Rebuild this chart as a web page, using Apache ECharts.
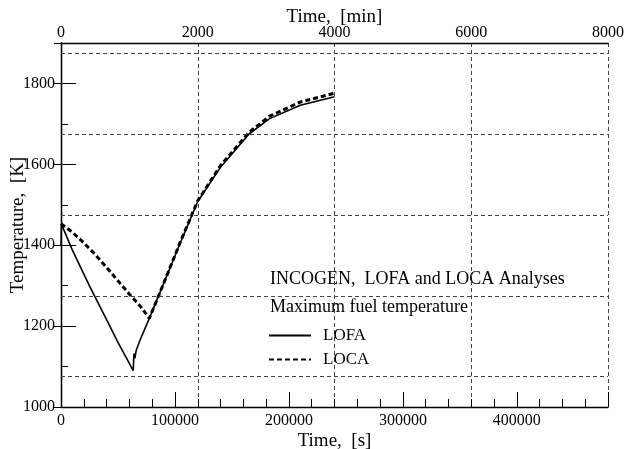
<!DOCTYPE html>
<html>
<head>
<meta charset="utf-8">
<script src="https://cdn.jsdelivr.net/npm/echarts@6/dist/echarts.min.js"></script>
<style>
  html, body { margin: 0; padding: 0; background: #fff; }
  #chart { width: 624px; height: 449px; }
</style>
</head>
<body>
<div id="chart"></div>
<script>
// values
var lofaTime = [0, 400, 10000, 25400, 40000, 50000, 63400, 64000, 64800, 66000, 69300, 77500, 90000, 105000, 120000, 140000, 165000, 183000, 210000, 240000];
var lofaTemp = [1398, 1452, 1388, 1297, 1216, 1160, 1090, 1132, 1120, 1140, 1165, 1219, 1305, 1408, 1508, 1593, 1675, 1713, 1746, 1767];
var locaTime = [0, 10000, 20000, 30000, 40000, 50000, 60000, 70000, 77500, 90000, 105000, 120000, 140000, 165000, 183000, 210000, 240000];
var locaTemp = [1453, 1432, 1406, 1377, 1345, 1312, 1279, 1248, 1219, 1305, 1410, 1510, 1597, 1679, 1719, 1754, 1776];
var gridTemp = [1075, 1275, 1475, 1675, 1875];   // dashed horizontal grid

function pairs(xs, ys) {
  var out = [];
  for (var i = 0; i < xs.length; i++) out.push([xs[i], ys[i]]);
  return out;
}
function plain(v) { return String(v); }

var serif = 'Liberation Serif';
var chart = echarts.init(document.getElementById('chart'));

var gridLine = { type: [4, 3], color: '#444', width: 1 };
var nameStyle = { fontFamily: serif, fontSize: 19, color: '#000' };
var labelStyle = { fontFamily: serif, fontSize: 16, color: '#000' };

chart.setOption({
  animation: false,
  textStyle: { fontFamily: serif, color: '#000' },
  grid: { left: 61, right: 16, top: 43, bottom: 42, containLabel: false, outerBoundsMode: 'none' },
  xAxis: [{
    type: 'value', position: 'bottom',
    min: 0, max: 480000, interval: 100000,
    name: 'Time,  [s]', nameLocation: 'middle', nameGap: 25, nameMoveOverlap: false,
    nameTextStyle: nameStyle,
    axisLine: { show: true, lineStyle: { color: '#000', width: 1.3 } },
    axisTick: { show: true, inside: true, length: 15, lineStyle: { color: '#000' } },
    minorTick: { show: true, splitNumber: 5, length: 8, lineStyle: { color: '#000' } },
    axisLabel: Object.assign({ margin: 6, showMaxLabel: false, formatter: plain }, labelStyle),
    splitLine: { show: false }
  }, {
    type: 'value', position: 'top',
    min: 0, max: 8000, interval: 2000,
    name: 'Time,  [min]', nameLocation: 'middle', nameGap: 16, nameMoveOverlap: false,
    nameTextStyle: nameStyle,
    axisLine: { show: true, lineStyle: { color: '#000', width: 1.3 } },
    axisTick: { show: false },
    axisLabel: Object.assign({ margin: 2, formatter: plain }, labelStyle),
    splitLine: { show: true, lineStyle: gridLine }
  }],
  yAxis: [{
    type: 'value', position: 'left',
    min: 1000, max: 1900, interval: 200,
    name: 'Temperature,  [K]', nameLocation: 'middle', nameGap: 33, nameMoveOverlap: false,
    nameTextStyle: nameStyle,
    axisLine: { show: true, lineStyle: { color: '#000', width: 1.3 } },
    axisTick: { show: true, inside: true, length: 15, lineStyle: { color: '#000' } },
    minorTick: { show: true, splitNumber: 2, length: 7, lineStyle: { color: '#000' } },
    axisLabel: Object.assign({ margin: 6, showMaxLabel: false, formatter: plain }, labelStyle),
    splitLine: { show: false }
  }, {
    type: 'value', position: 'right',
    min: 1000, max: 1900, interval: 200,
    axisLine: { show: true, lineStyle: { color: '#000', width: 1.3 } },
    axisTick: { show: true, inside: true, length: 7, lineStyle: { color: '#000' } },
    axisLabel: { show: false },
    splitLine: { show: false }
  }],
  legend: {
    orient: 'vertical', left: 268, top: 327, padding: 0,
    itemWidth: 42, itemHeight: 14, itemGap: 7,
    itemStyle: { opacity: 0 },
    textStyle: { fontFamily: serif, fontSize: 17, color: '#000', padding: [0, 0, 0, 7] },
    data: ['LOFA', 'LOCA']
  },
  graphic: [
    { type: 'text', left: 270, top: 270, style: { text: 'INCOGEN,  LOFA and LOCA Analyses', font: '18px "Liberation Serif"', fill: '#000' } },
    { type: 'text', left: 270, top: 298, style: { text: 'Maximum fuel temperature', font: '18px "Liberation Serif"', fill: '#000' } }
  ],
  series: [{
    name: 'LOFA', type: 'line', xAxisIndex: 0, yAxisIndex: 0,
    data: pairs(lofaTime, lofaTemp), showSymbol: false, symbol: 'none',
    lineStyle: { color: '#000', width: 1.6 },
    itemStyle: { color: '#000' },
    z: 3,
    markLine: {
      silent: true, symbol: 'none', label: { show: false },
      lineStyle: gridLine,
      data: gridTemp.map(function (v) { return { yAxis: v }; })
    }
  }, {
    name: 'LOCA', type: 'line', xAxisIndex: 0, yAxisIndex: 0,
    data: pairs(locaTime, locaTemp), showSymbol: false, symbol: 'none',
    lineStyle: { color: '#000', width: 3, type: [5, 3] },
    itemStyle: { color: '#000' },
    z: 4
  }]
});
</script>
</body>
</html>
